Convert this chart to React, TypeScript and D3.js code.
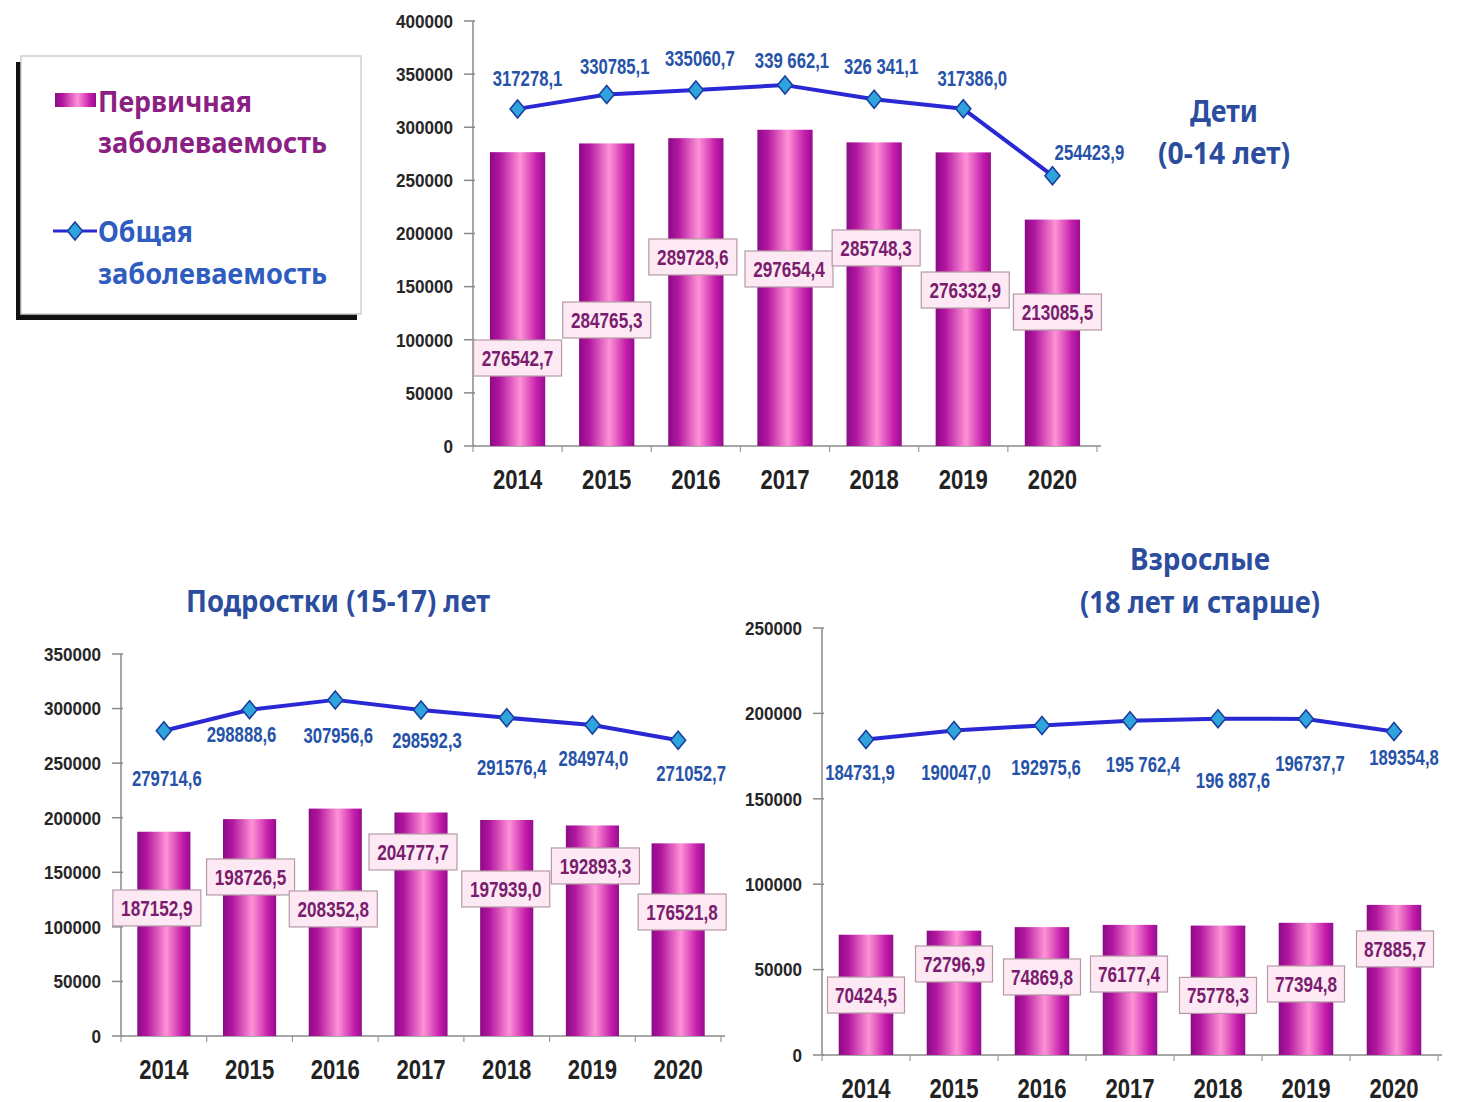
import React from 'react';
import * as d3 from 'd3';

// ---------- DATA ----------
const years = ['2014', '2015', '2016', '2017', '2018', '2019', '2020'];

// Дети (0-14 лет)
const childPrimary = [276542.7, 284765.3, 289728.6, 297654.4, 285748.3, 276332.9, 213085.5];
const childPrimaryText = ['276542,7', '284765,3', '289728,6', '297654,4', '285748,3', '276332,9', '213085,5'];
const childTotal = [317278.1, 330785.1, 335060.7, 339662.1, 326341.1, 317386.0, 254423.9];
const childTotalText = ['317278,1', '330785,1', '335060,7', '339 662,1', '326 341,1', '317386,0', '254423,9'];
const childTicks = [0, 50000, 100000, 150000, 200000, 250000, 300000, 350000, 400000];

// Подростки (15-17 лет)
const teenPrimary = [187152.9, 198726.5, 208352.8, 204777.7, 197939.0, 192893.3, 176521.8];
const teenPrimaryText = ['187152,9', '198726,5', '208352,8', '204777,7', '197939,0', '192893,3', '176521,8'];
const teenTotal = [279714.6, 298888.6, 307956.6, 298592.3, 291576.4, 284974.0, 271052.7];
const teenTotalText = ['279714,6', '298888,6', '307956,6', '298592,3', '291576,4', '284974,0', '271052,7'];
const teenTicks = [0, 50000, 100000, 150000, 200000, 250000, 300000, 350000];

// Взрослые (18 лет и старше)
const adultPrimary = [70424.5, 72796.9, 74869.8, 76177.4, 75778.3, 77394.8, 87885.7];
const adultPrimaryText = ['70424,5', '72796,9', '74869,8', '76177,4', '75778,3', '77394,8', '87885,7'];
const adultTotal = [184731.9, 190047.0, 192975.6, 195762.4, 196887.6, 196737.7, 189354.8];
const adultTotalText = ['184731,9', '190047,0', '192975,6', '195 762,4', '196 887,6', '196737,7', '189354,8'];
const adultTicks = [0, 50000, 100000, 150000, 200000, 250000];

// ---------- LAYOUT (label placement, in value units / px offsets) ----------
const childLayout = {
  left: 473, right: 1097, top: 21, bottom: 446, yMax: 400000, boxW: 88,
  barLabelAt: [82800, 118600, 177900, 166600, 186400, 146800, 126100],
  barLabelDx: [0, 0, -3, 4, 2, 2, 5],
  lineLabelAt: [346400, 357600, 365200, 363300, 357600, 346400, 276700],
  lineLabelDx: [10, 8, 4, 7, 7, 9, 37],
};
const teenLayout = {
  left: 121, right: 721, top: 654, bottom: 1036, yMax: 350000, boxW: 88,
  barLabelAt: [117300, 145700, 116400, 168600, 134700, 155800, 113600],
  barLabelDx: [-7, 1, -2, -8, -1, 3, 4],
  lineLabelAt: [236400, 276700, 275800, 271200, 246500, 254700, 241000],
  lineLabelDx: [3, -8, 3, 6, 5, 1, 13],
};
const adultLayout = {
  left: 822, right: 1438, top: 628, bottom: 1055, yMax: 250000, boxW: 77,
  barLabelAt: [35100, 53300, 45700, 47400, 34900, 41600, 62100],
  barLabelDx: [0, 0, 0, -1, 0, 0, 1],
  lineLabelAt: [165700, 165700, 168600, 170400, 161000, 171000, 174500],
  lineLabelDx: [-6, 2, 4, 13, 15, 4, 10],
};

const SANS = "'Liberation Sans', Arial, sans-serif";
const TITLE = "'Noto Sans', 'Open Sans', sans-serif";

const LINE_COLOR = '#2a28d4';
const LINE_LABEL = '#2652a8';
const BAR_LABEL = '#7a1d6e';
const TITLE_COLOR = '#2c4d9e';

// horizontally condensed bold text
function SText({
  x, y, sx, size, fill, anchor = 'middle', middle = false, children,
}: {
  x: number; y: number; sx: number; size: number; fill: string; anchor?: string; middle?: boolean; children: React.ReactNode;
}) {
  return (
    <g transform={`translate(${x},${y}) scale(${sx},1)`}>
      <text
        x={0}
        y={0}
        dy={middle ? '0.36em' : undefined}
        textAnchor={anchor as any}
        fontFamily={SANS}
        fontWeight="bold"
        fontSize={size}
        fill={fill}
      >
        {children}
      </text>
    </g>
  );
}

type PanelProps = {
  layout: typeof childLayout;
  bars: number[];
  barText: string[];
  line: number[];
  lineText: string[];
  ticks: number[];
};

function Diamond({ x, y }: { x: number; y: number }) {
  return (
    <path
      d={`M${x},${y - 9} L${x + 7.5},${y} L${x},${y + 9} L${x - 7.5},${y} Z`}
      fill="#2ea3dc"
      stroke="#1b3f9e"
      strokeWidth={1.6}
    />
  );
}

function Panel({ layout, bars, barText, line, lineText, ticks }: PanelProps) {
  const { left, right, top, bottom, yMax, boxW } = layout;
  const x = d3.scaleBand<string>().domain(years).range([left, right]).paddingInner(0.38).paddingOuter(0.19);
  const y = d3.scaleLinear().domain([0, yMax]).range([bottom, top]);
  const step = x.step();
  const cx = (i: number) => (x(years[i]) as number) + x.bandwidth() / 2;
  const linePath = d3
    .line<number>()
    .x((_, i) => cx(i))
    .y((d) => y(d))(line) as string;

  return (
    <g>
      {/* y axis */}
      <line x1={left} x2={left} y1={top} y2={bottom} stroke="#8a8a8a" strokeWidth={1.5} />
      {ticks.map((t) => (
        <g key={t}>
          <line x1={left - 9} x2={left + 2} y1={y(t)} y2={y(t)} stroke="#8a8a8a" strokeWidth={1.5} />
          <SText x={left - 20} y={y(t)} sx={0.9} size={19} fill="#262626" anchor="end" middle>
            {t}
          </SText>
        </g>
      ))}
      {/* x axis */}
      <line x1={left} x2={right + 4} y1={bottom} y2={bottom} stroke="#8a8a8a" strokeWidth={1.5} />
      {d3.range(years.length + 1).map((i) => (
        <line
          key={i}
          x1={left + i * step}
          x2={left + i * step}
          y1={bottom}
          y2={bottom + 6}
          stroke="#9a9a9a"
          strokeWidth={1.2}
        />
      ))}
      {years.map((yr, i) => (
        <SText key={yr} x={cx(i)} y={bottom + 43} sx={0.82} size={27} fill="#222">
          {yr}
        </SText>
      ))}
      {/* bars */}
      {bars.map((v, i) => (
        <rect
          key={i}
          x={x(years[i])}
          y={y(v)}
          width={x.bandwidth()}
          height={bottom - y(v)}
          fill="url(#barGrad)"
        />
      ))}
      {/* line */}
      <path d={linePath} fill="none" stroke={LINE_COLOR} strokeWidth={4} strokeLinejoin="round" />
      {line.map((v, i) => (
        <Diamond key={i} x={cx(i)} y={y(v)} />
      ))}
      {/* line labels */}
      {lineText.map((t, i) => (
        <SText
          key={i}
          x={cx(i) + layout.lineLabelDx[i]}
          y={y(layout.lineLabelAt[i])}
          sx={0.76}
          size={22}
          fill={LINE_LABEL}
          middle
        >
          {t}
        </SText>
      ))}
      {/* bar labels */}
      {barText.map((t, i) => {
        const bx = cx(i) + layout.barLabelDx[i];
        const by = y(layout.barLabelAt[i]);
        return (
          <g key={i}>
            <rect
              x={bx - boxW / 2}
              y={by - 18}
              width={boxW}
              height={36}
              fill="#fde9f4"
              stroke="#b59aa6"
              strokeWidth={1.2}
            />
            <SText x={bx} y={by} sx={0.78} size={22} fill={BAR_LABEL} middle>
              {t}
            </SText>
          </g>
        );
      })}
    </g>
  );
}

export default function App() {
  return (
    <svg
      width={1466}
      height={1102}
      style={{ position: 'absolute', left: 0, top: 0, background: '#fff' }}
      xmlns="http://www.w3.org/2000/svg"
    >
      <defs>
        <linearGradient id="barGrad" x1="0" x2="1" y1="0" y2="0">
          <stop offset="0" stopColor="#8c0a86" />
          <stop offset="0.18" stopColor="#b2179f" />
          <stop offset="0.55" stopColor="#ff92d6" />
          <stop offset="0.85" stopColor="#c41eab" />
          <stop offset="1" stopColor="#980c90" />
        </linearGradient>
      </defs>
      <rect x={0} y={0} width={1466} height={1102} fill="#fff" />

      {/* Legend */}
      <rect x={16} y={62} width={341} height={258} fill="#111" />
      <rect x={21} y={56} width={340} height={258} fill="#fff" stroke="#cfcfcf" strokeWidth={1.5} />
      <rect x={55} y={93} width={41} height={14} fill="url(#barGrad)" />
      <text x={98} y={112} fontFamily={TITLE} fontWeight="bold" fontSize={29} fill="#8b1f83" textLength={154} lengthAdjust="spacingAndGlyphs">
        Первичная
      </text>
      <text x={98} y={153} fontFamily={TITLE} fontWeight="bold" fontSize={29} fill="#8b1f83" textLength={229} lengthAdjust="spacingAndGlyphs">
        заболеваемость
      </text>
      <line x1={53} x2={97} y1={231} y2={231} stroke={LINE_COLOR} strokeWidth={3} />
      <Diamond x={75} y={231} />
      <text x={98} y={242} fontFamily={TITLE} fontWeight="bold" fontSize={29} fill="#2f5cc0" textLength={95} lengthAdjust="spacingAndGlyphs">
        Общая
      </text>
      <text x={98} y={284} fontFamily={TITLE} fontWeight="bold" fontSize={29} fill="#2f5cc0" textLength={229} lengthAdjust="spacingAndGlyphs">
        заболеваемость
      </text>

      {/* Titles */}
      <text x={1224} y={122} textAnchor="middle" fontFamily={TITLE} fontWeight="bold" fontSize={30} fill={TITLE_COLOR} textLength={68} lengthAdjust="spacingAndGlyphs">
        Дети
      </text>
      <text x={1224} y={164} textAnchor="middle" fontFamily={TITLE} fontWeight="bold" fontSize={30} fill={TITLE_COLOR} textLength={132} lengthAdjust="spacingAndGlyphs">
        (0-14 лет)
      </text>
      <text x={338} y={612} textAnchor="middle" fontFamily={TITLE} fontWeight="bold" fontSize={30} fill={TITLE_COLOR} textLength={304} lengthAdjust="spacingAndGlyphs">
        Подростки (15-17) лет
      </text>
      <text x={1200} y={570} textAnchor="middle" fontFamily={TITLE} fontWeight="bold" fontSize={30} fill={TITLE_COLOR} textLength={140} lengthAdjust="spacingAndGlyphs">
        Взрослые
      </text>
      <text x={1200} y={613} textAnchor="middle" fontFamily={TITLE} fontWeight="bold" fontSize={30} fill={TITLE_COLOR} textLength={240} lengthAdjust="spacingAndGlyphs">
        (18 лет и старше)
      </text>

      <Panel layout={childLayout} bars={childPrimary} barText={childPrimaryText} line={childTotal} lineText={childTotalText} ticks={childTicks} />
      <Panel layout={teenLayout} bars={teenPrimary} barText={teenPrimaryText} line={teenTotal} lineText={teenTotalText} ticks={teenTicks} />
      <Panel layout={adultLayout} bars={adultPrimary} barText={adultPrimaryText} line={adultTotal} lineText={adultTotalText} ticks={adultTicks} />
    </svg>
  );
}
